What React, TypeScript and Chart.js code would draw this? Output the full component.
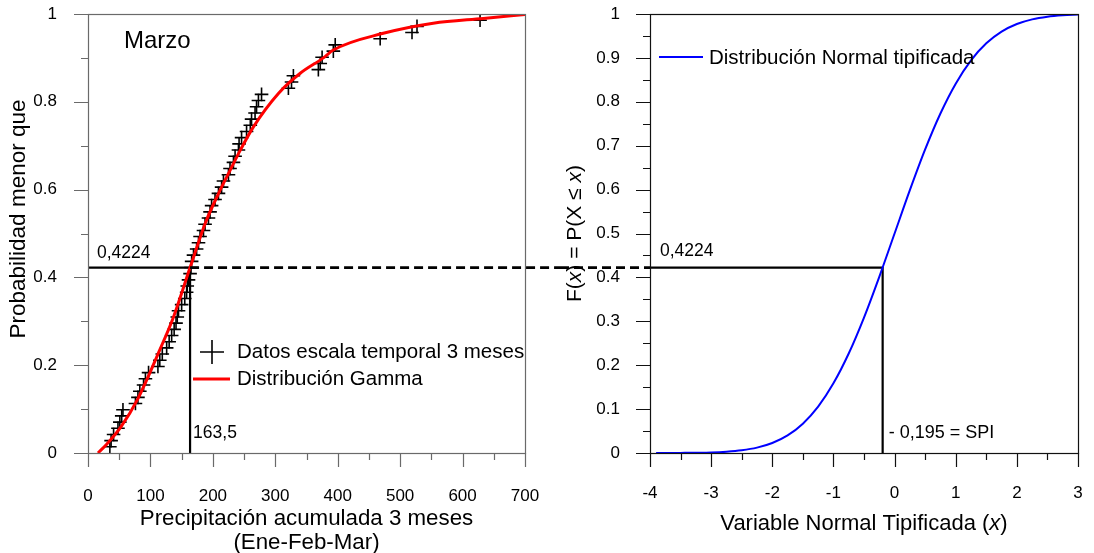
import React, { useEffect, useRef } from "react";
import { Chart, registerables } from "chart.js";

Chart.register(...registerables);

const FONT = "'Liberation Sans', Arial, Helvetica, sans-serif";

// ---------- DATA ----------
// Observed 3-month accumulated precipitation (sorted) and plotting probabilities
const precipObs = [
  35, 37, 41, 48, 51, 54, 56, 76, 80, 83, 89, 92, 97, 112, 115, 119, 126, 130, 134, 138,
  141, 143, 145, 150, 155, 158, 159, 161, 163.5, 165, 166, 169, 174, 177, 179.5, 185, 187.5, 193, 195.5, 198,
  203.5, 209, 214, 217, 225, 227.5, 233, 235.6, 241, 242, 246, 254, 260, 262, 267.6, 270, 273, 278, 321, 326,
  329, 369, 372, 375, 393, 396, 468, 519, 527, 628,
];
const probObs = [
  0.0141, 0.0282, 0.0423, 0.0563, 0.0704, 0.0845, 0.0986, 0.1127, 0.1268, 0.1408,
  0.1549, 0.169, 0.1831, 0.1972, 0.2113, 0.2254, 0.2394, 0.2535, 0.2676, 0.2817,
  0.2958, 0.3099, 0.3239, 0.338, 0.3521, 0.3662, 0.3803, 0.3944, 0.4085, 0.4225,
  0.4366, 0.4507, 0.4648, 0.4789, 0.493, 0.507, 0.5211, 0.5352, 0.5493, 0.5634,
  0.5775, 0.5915, 0.6056, 0.6197, 0.6338, 0.6479, 0.662, 0.6761, 0.6901, 0.7042,
  0.7183, 0.7324, 0.7465, 0.7606, 0.7746, 0.7887, 0.8028, 0.8169, 0.831, 0.8451,
  0.8592, 0.8732, 0.8873, 0.9014, 0.9155, 0.9296, 0.9437, 0.9577, 0.9718, 0.9859,
];

// Fitted gamma distribution
const gammaPrecip = [16, 30, 53, 80, 115, 137, 163.5, 188, 209, 228, 244, 265, 305, 340, 377, 393, 473, 553, 633, 700];
const gammaProb = [0, 0.02, 0.06, 0.124, 0.235, 0.31, 0.4224, 0.524, 0.591, 0.645, 0.69, 0.743, 0.819, 0.865, 0.9, 0.918, 0.956, 0.979, 0.99, 0.999];

// Standard normal distribution
const zValues = [-3.9, -3.5, -3, -2.75, -2.5, -2.25, -2, -1.75, -1.5, -1.25, -1, -0.75, -0.5, -0.25, 0, 0.25, 0.5, 0.75, 1, 1.25, 1.5, 1.75, 2, 2.25, 2.5, 2.75, 3];
const normalCdf = [0, 0.0002, 0.0013, 0.003, 0.0062, 0.0122, 0.0228, 0.0401, 0.0668, 0.1056, 0.1587, 0.2266, 0.3085, 0.4013, 0.5, 0.5987, 0.6915, 0.7734, 0.8413, 0.8944, 0.9332, 0.9599, 0.9772, 0.9878, 0.9938, 0.997, 0.9987];

const thresholdPrecip = 163.5;
const thresholdProb = 0.4224;
const spiValue = -0.195;

// Tick values
const precipTicks = [0, 100, 200, 300, 400, 500, 600, 700];
const precipMinor = [50, 150, 250, 350, 450, 550, 650];
const probTicks = [0, 0.2, 0.4, 0.6, 0.8, 1];
const probMinor = [0.1, 0.3, 0.5, 0.7, 0.9];
const zTicks = [-4, -3, -2, -1, 0, 1, 2, 3];
const zMinor = [-3.5, -2.5, -1.5, -0.5, 0.5, 1.5, 2.5];
const cdfTicks = [0, 0.1, 0.2, 0.3, 0.4, 0.5, 0.6, 0.7, 0.8, 0.9, 1];
const cdfMinor = [0.05, 0.15, 0.25, 0.35, 0.45, 0.55, 0.65, 0.75, 0.85, 0.95];

// ---------- helpers ----------
type Part = { t: string; it?: boolean };

function drawRich(ctx: CanvasRenderingContext2D, parts: Part[], cx: number, cy: number, size: number, rot = 0) {
  ctx.save();
  ctx.translate(cx, cy);
  if (rot) ctx.rotate(rot);
  const fonts = parts.map((p) => `${p.it ? "italic " : ""}${size}px ${FONT}`);
  let total = 0;
  const ws = parts.map((p, i) => {
    ctx.font = fonts[i];
    const w = ctx.measureText(p.t).width;
    total += w;
    return w;
  });
  let x = -total / 2;
  ctx.textBaseline = "middle";
  ctx.textAlign = "left";
  ctx.fillStyle = "#000";
  parts.forEach((p, i) => {
    ctx.font = fonts[i];
    ctx.fillText(p.t, x, 0);
    x += ws[i];
  });
  ctx.restore();
}

function drawText(ctx: CanvasRenderingContext2D, t: string, x: number, y: number, size: number, baseline: CanvasTextBaseline = "alphabetic") {
  ctx.save();
  ctx.font = `${size}px ${FONT}`;
  ctx.fillStyle = "#000";
  ctx.textAlign = "left";
  ctx.textBaseline = baseline;
  ctx.fillText(t, x, y);
  ctx.restore();
}

function drawTickMarks(chart: any, color: string, lw: number, xMajor: number[], xMinor: number[], yMajor: number[], yMinor: number[], majLen: number, minLen: number) {
  const { ctx, chartArea: a, scales } = chart;
  ctx.save();
  ctx.strokeStyle = color;
  ctx.lineWidth = lw;
  ctx.beginPath();
  const xs = scales.x, ys = scales.y;
  const xm = (vals: number[], len: number) =>
    vals.forEach((v) => {
      const px = Math.round(xs.getPixelForValue(v)) + 0.5;
      ctx.moveTo(px, a.bottom);
      ctx.lineTo(px, a.bottom + len);
    });
  const ym = (vals: number[], len: number) =>
    vals.forEach((v) => {
      const py = Math.round(ys.getPixelForValue(v)) + 0.5;
      ctx.moveTo(a.left - len, py);
      ctx.lineTo(a.left, py);
    });
  xm(xMajor, majLen);
  xm(xMinor, minLen);
  ym(yMajor, majLen);
  ym(yMinor, minLen);
  ctx.stroke();
  const l = Math.round(a.left) + 0.5, r = Math.round(a.right) + 0.5, t = Math.round(a.top) + 0.5, b = Math.round(a.bottom) + 0.5;
  ctx.strokeRect(l, t, r - l, b - t);
  ctx.restore();
}

function dashed(ctx: CanvasRenderingContext2D, x1: number, x2: number, y: number) {
  ctx.save();
  ctx.strokeStyle = "#000";
  ctx.lineWidth = 2.8;
  ctx.setLineDash([9, 5]);
  ctx.beginPath();
  ctx.moveTo(x1, y);
  ctx.lineTo(x2, y);
  ctx.stroke();
  ctx.restore();
}

const tickFont = { family: FONT, size: 17 };

const noPadX = (h: number) => (s: any) => {
  s.height = h;
  s.paddingLeft = 0;
  s.paddingRight = 0;
};
const noPadY = (w: number) => (s: any) => {
  s.width = w;
  s.paddingTop = 0;
  s.paddingBottom = 0;
};

// ---------- left chart ----------
function leftConfig(): any {
  const overlay = {
    id: "leftOverlay",
    afterDraw(chart: any) {
      const { ctx, chartArea: a, scales } = chart;
      drawTickMarks(chart, "#6a6a6a", 1.2, precipTicks, precipMinor, probTicks, probMinor, 14, 7);
      const yT = scales.y.getPixelForValue(thresholdProb);
      const xT = scales.x.getPixelForValue(thresholdPrecip);
      dashed(ctx, xT, chart.width, yT);
      drawText(ctx, "Marzo", a.left + 36, 48, 24);
      drawText(ctx, "0,4224", a.left + 9, yT - 10, 17.5);
      drawText(ctx, String(thresholdPrecip).replace(".", ","), xT + 3, a.bottom - 15, 17.5);
      // legend
      ctx.save();
      ctx.strokeStyle = "#000";
      ctx.lineWidth = 1.6;
      ctx.beginPath();
      const cx = a.left + 124, cy = 352;
      ctx.moveTo(cx - 12, cy);
      ctx.lineTo(cx + 12, cy);
      ctx.moveTo(cx, cy - 12);
      ctx.lineTo(cx, cy + 12);
      ctx.stroke();
      ctx.strokeStyle = "#ff0000";
      ctx.lineWidth = 3;
      ctx.beginPath();
      ctx.moveTo(a.left + 105, 379);
      ctx.lineTo(a.left + 142, 379);
      ctx.stroke();
      ctx.restore();
      drawText(ctx, "Datos escala temporal 3 meses", a.left + 149, 352, 20.5, "middle");
      drawText(ctx, "Distribución Gamma", a.left + 149, 379, 20.5, "middle");
      // axis titles
      const mid = (a.left + a.right) / 2;
      drawRich(ctx, [{ t: "Precipitación acumulada 3 meses" }], mid, 519, 22.3);
      drawRich(ctx, [{ t: "(Ene-Feb-Mar)" }], mid, 543, 22.3);
      drawRich(ctx, [{ t: "Probabilidad menor que" }], 19, 219, 22.5, -Math.PI / 2);
    },
  };
  return {
    type: "scatter",
    data: {
      datasets: [
        {
          label: "Distribución Gamma",
          data: gammaPrecip.map((x, i) => ({ x, y: gammaProb[i] })),
          showLine: true,
          borderColor: "#ff0000",
          borderWidth: 3,
          pointRadius: 0,
          cubicInterpolationMode: "monotone",
        },
        {
          label: "Datos escala temporal 3 meses",
          data: precipObs.map((x, i) => ({ x, y: probObs[i] })),
          pointStyle: "cross",
          pointRadius: 6.8,
          borderColor: "#000",
          borderWidth: 1.6,
          backgroundColor: "#000",
        },
        {
          label: "ref",
          data: [
            { x: 0, y: thresholdProb },
            { x: thresholdPrecip, y: thresholdProb },
            { x: thresholdPrecip, y: 0 },
          ],
          showLine: true,
          borderColor: "#000",
          borderWidth: 2.2,
          pointRadius: 0,
        },
      ],
    },
    options: {
      animation: false,
      responsive: false,
      maintainAspectRatio: false,
      layout: { padding: { top: 14, right: 35, left: 0, bottom: 0 } },
      plugins: { legend: { display: false }, tooltip: { enabled: false } },
      scales: {
        x: {
          type: "linear",
          min: 0,
          max: 700,
          grid: { display: false },
          border: { display: false },
          afterBuildTicks: (s: any) => {
            s.ticks = precipTicks.map((v) => ({ value: v }));
          },
          afterFit: noPadX(100),
          ticks: { font: tickFont, color: "#000", padding: 25, autoSkip: false, maxRotation: 0, callback: (v: any) => String(v) },
        },
        y: {
          type: "linear",
          min: 0,
          max: 1,
          grid: { display: false },
          border: { display: false },
          afterBuildTicks: (s: any) => {
            s.ticks = probTicks.map((v) => ({ value: v }));
          },
          afterFit: noPadY(88),
          ticks: { font: tickFont, color: "#000", padding: 23, autoSkip: false, callback: (v: any) => String(v) },
        },
      },
    },
    plugins: [overlay],
  };
}

// ---------- right chart ----------
function rightConfig(): any {
  const overlay = {
    id: "rightOverlay",
    afterDraw(chart: any) {
      const { ctx, chartArea: a, scales } = chart;
      drawTickMarks(chart, "#111", 1.2, zTicks, zMinor, cdfTicks, cdfMinor, 14, 7);
      const yT = scales.y.getPixelForValue(thresholdProb);
      const xS = scales.x.getPixelForValue(spiValue);
      drawText(ctx, "0,4224", a.left + 10, yT - 12, 17.5);
      drawText(ctx, "- " + String(spiValue).replace("-", "").replace(".", ",") + " = SPI", xS + 6, a.bottom - 15, 18);
      // legend
      ctx.save();
      ctx.strokeStyle = "#0000ff";
      ctx.lineWidth = 2;
      ctx.beginPath();
      ctx.moveTo(a.left + 9, 57);
      ctx.lineTo(a.left + 53, 57);
      ctx.stroke();
      ctx.restore();
      drawText(ctx, "Distribución Normal tipificada", a.left + 59, 58, 20.5, "middle");
      // axis titles
      drawRich(ctx, [{ t: "Variable Normal Tipificada (" }, { t: "x", it: true }, { t: ")" }], (a.left + a.right) / 2, 524, 22);
      drawRich(
        ctx,
        [{ t: "F(" }, { t: "x", it: true }, { t: ") = P(X ≤ " }, { t: "x", it: true }, { t: ")" }],
        15,
        (a.top + a.bottom) / 2,
        21,
        -Math.PI / 2
      );
      dashed(ctx, 0, a.left, yT);
    },
  };
  return {
    type: "scatter",
    data: {
      datasets: [
        {
          label: "Distribución Normal tipificada",
          data: zValues.map((x, i) => ({ x, y: normalCdf[i] })),
          showLine: true,
          borderColor: "#0000ff",
          borderWidth: 2,
          pointRadius: 0,
          cubicInterpolationMode: "monotone",
        },
        {
          label: "ref",
          data: [
            { x: -4, y: thresholdProb },
            { x: spiValue, y: thresholdProb },
            { x: spiValue, y: 0 },
          ],
          showLine: true,
          borderColor: "#000",
          borderWidth: 2.2,
          pointRadius: 0,
        },
      ],
    },
    options: {
      animation: false,
      responsive: false,
      maintainAspectRatio: false,
      layout: { padding: { top: 14, right: 16, left: 0, bottom: 0 } },
      plugins: { legend: { display: false }, tooltip: { enabled: false } },
      scales: {
        x: {
          type: "linear",
          min: -4,
          max: 3,
          grid: { display: false },
          border: { display: false },
          afterBuildTicks: (s: any) => {
            s.ticks = zTicks.map((v) => ({ value: v }));
          },
          afterFit: noPadX(100),
          ticks: { font: tickFont, color: "#000", padding: 22, autoSkip: false, maxRotation: 0, callback: (v: any) => String(v) },
        },
        y: {
          type: "linear",
          min: 0,
          max: 1,
          grid: { display: false },
          border: { display: false },
          afterBuildTicks: (s: any) => {
            s.ticks = cdfTicks.map((v) => ({ value: v }));
          },
          afterFit: noPadY(90),
          ticks: { font: tickFont, color: "#000", padding: 22, autoSkip: false, callback: (v: any) => String(v) },
        },
      },
    },
    plugins: [overlay],
  };
}

export default function App() {
  const leftRef = useRef<HTMLCanvasElement>(null);
  const rightRef = useRef<HTMLCanvasElement>(null);
  useEffect(() => {
    const left = new Chart(leftRef.current as HTMLCanvasElement, leftConfig());
    const right = new Chart(rightRef.current as HTMLCanvasElement, rightConfig());
    return () => {
      left.destroy();
      right.destroy();
    };
  }, []);
  return (
    <div style={{ position: "absolute", left: 0, top: 0, width: 1094, height: 553, background: "#fff" }}>
      <canvas ref={leftRef} width={560} height={553} style={{ position: "absolute", left: 0, top: 0, width: 560, height: 553 }} />
      <canvas ref={rightRef} width={534} height={553} style={{ position: "absolute", left: 560, top: 0, width: 534, height: 553 }} />
    </div>
  );
}
